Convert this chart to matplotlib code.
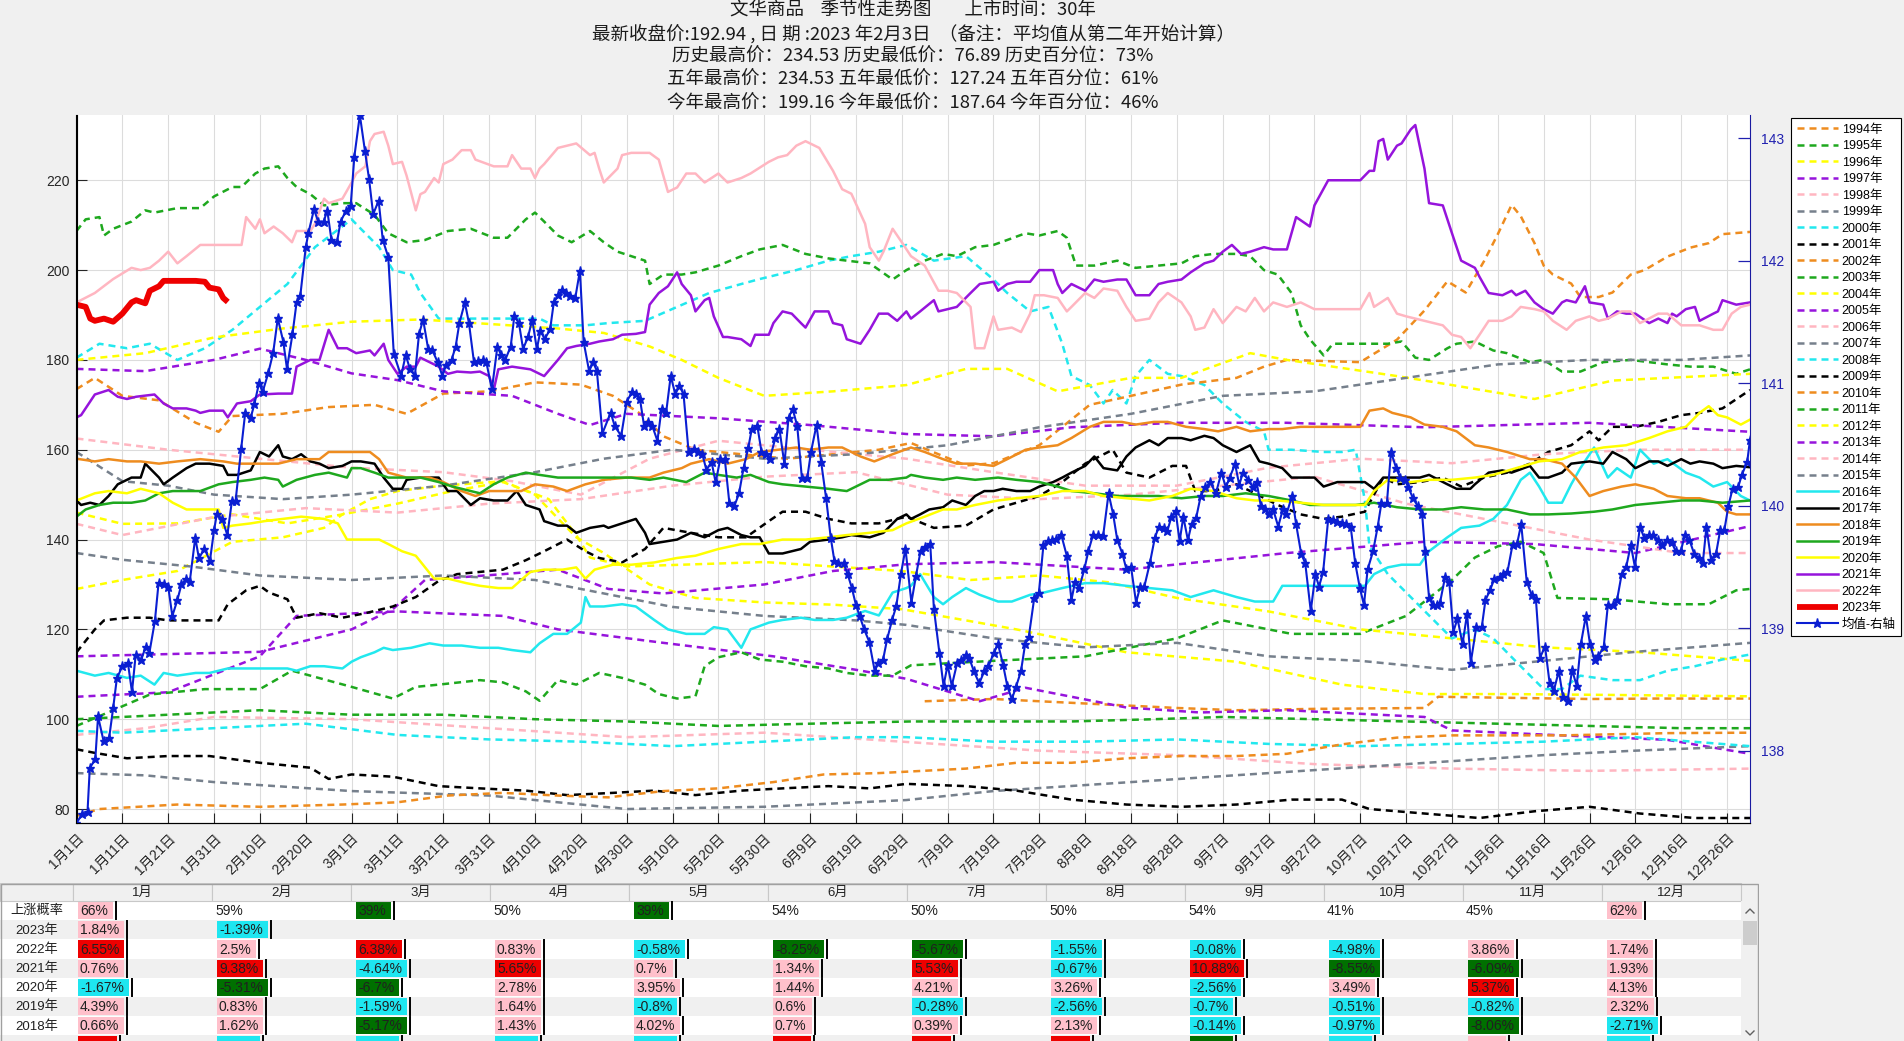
import datetime
import numpy as np
import matplotlib
matplotlib.use("Agg")
import matplotlib.pyplot as plt
from matplotlib.patches import Rectangle

plt.rcParams['font.family'] = ['Liberation Sans', 'Noto Sans CJK SC']
plt.rcParams['axes.unicode_minus'] = False

# ---------------- data (day of year, leap-year calendar) ----------------
y1994 = [(185,104),(200,104.5),(220,103.5),(240,102.5),(253,102),(270,102.3),(294,102.5),(297,105),(310,104.8),(330,104.5),(345,104.6),(365,104.6)]
y1995 = [(0,100),(20,101),(40,102),(60,101),(80,101),(100,100),(120,99.5),(140,98.5),(160,99),(182,99.5),(200,99.5),(217,99.5),(235,100),(250,100.5),(270,100),(290,99.5),(310,99),(330,98.5),(350,98),(365,98)]
y1996 = [(0,129),(10,131),(22,133),(34,139.5),(45,140.5),(54,142.6),(58,145.6),(64,149),(70,150.8),(80,152),(93,153),(100,150),(109,140.5),(115,137),(125,130),(135,127),(150,126),(165,125.5),(180,124.5),(194,122),(205,120),(229,114.9),(253,112.8),(276,107.7),(294,105.6),(312,105.6),(335,105.4),(365,105.1)]
y1997 = [(0,105),(20,106),(40,114),(48,123),(70,124),(93,123),(105,120),(128,117),(152,114),(170,111),(181,109),(197,104),(207,107),(217,105),(229,102.6),(245,101.5),(264,102),(294,100.5),(300,97.5),(324,96.4),(347,95.4),(365,92.3)]
y1998 = [(0,96.5),(15,98),(30,100.5),(60,100),(90,98),(120,96),(150,97),(180,95),(210,93),(240,92),(270,90),(300,89),(330,88.5),(365,89)]
y1999 = [(0,88),(15,87.5),(30,86),(60,84),(90,83),(120,80),(150,80.5),(181,82),(200,84),(230,86),(260,88),(290,90),(320,92),(340,93),(365,94)]
y2000 = [(0,97.4),(10,97),(30,98),(50,99),(70,96.5),(90,95.5),(110,95),(130,94),(150,95),(170,96),(181,96),(200,95),(220,95),(240,95.5),(260,94.5),(280,94),(300,94.5),(320,95),(340,96),(365,94)]
y2001 = [(0,93.3),(4,92.5),(11,91.3),(20,91.8),(29,91.8),(40,90.3),(51,89.2),(55,86.7),(60,87.7),(69,87.2),(79,85.1),(88,84.6),(98,84.1),(107,83.1),(117,83.6),(126,84.1),(135,83.1),(145,84.1),(154,84.6),(164,85.1),(173,84.6),(181,85.6),(194,85.1),(205,84.1),(217,82.1),(229,81),(241,80.5),(253,81),(265,82.1),(276,82.1),(282,80),(294,79),(306,78),(318,79.5),(330,80.5),(341,79),(353,78),(365,78)]
y2002 = [(0,78.5),(5,80),(22,81),(40,80.5),(58,81),(70,81.5),(81,83),(93,83.6),(105,83),(116,82.6),(128,84),(140,84.6),(152,86),(163,87.7),(175,88),(194,89),(205,90.3),(217,90.3),(229,91.3),(241,91.8),(253,91.8),(264,92.3),(276,94.4),(288,95.9),(300,96.4),(324,96.4),(347,96.9),(365,97)]
y2003 = [(0,98.5),(8,102),(16,105.5),(28,106.7),(40,106.7),(47,110.8),(51,109.7),(60,107.2),(69,104.6),(74,107.2),(79,107.7),(88,108.7),(93,108.2),(98,106.2),(101,104.1),(105,108.7),(109,107.7),(114,110.3),(119,109.2),(124,107.7),(127,105.6),(131,104.6),(135,105.1),(137,111.8),(140,113.8),(145,114.9),(149,113.3),(154,112.8),(159,111.8),(164,111.3),(168,110.3),(173,109.7),(178,109.7),(182,112),(200,113),(220,114),(240,118),(250,122),(265,119),(280,119),(290,123),(300,131),(305,136),(310,138.5),(315,139.5),(320,137),(323,127),(335,126.7),(347,125.6),(356,125.6),(362,128.7),(365,129)]
y2004 = [(0,146),(10,143.5),(22,143.6),(34,145.6),(46,143.6),(58,145.6),(70,148),(82,150.8),(93,152.8),(103,149),(109,141),(112,136),(120,134),(135,134.5),(150,135),(165,134),(180,133),(195,131),(210,132),(225,130.5),(240,127),(260,124),(280,120),(300,118),(320,116),(340,115),(365,113)]
y2005 = [(0,114),(40,115),(48,117),(60,120),(69,124.5),(76,131),(93,132.3),(105,133.3),(116,129),(128,128),(150,130),(165,133),(181,134.5),(200,135),(229,133.3),(264,137),(294,139.5),(318,139),(340,137),(365,143)]
y2006 = [(0,143.5),(10,141),(30,145),(50,147),(70,146),(90,148),(110,149),(130,152),(150,154),(170,155),(190,150),(210,149),(230,150),(250,152),(270,154),(290,148),(310,144),(330,140),(350,137),(365,137)]
y2007 = [(0,137),(10,135.5),(25,134),(40,132),(60,131),(80,132),(100,131),(115,128),(130,125),(150,123),(170,122),(181,121),(200,118),(220,116),(240,117),(260,114),(280,113),(300,111),(320,113),(340,115),(365,117)]
y2008 = [(0,180.5),(5,183.6),(11,182.6),(16,183.6),(22,180),(28,182.6),(34,186.7),(40,191.8),(46,196.9),(52,205.1),(56,208.2),(60,211.3),(62,209.2),(66,205.1),(69,200),(73,199),(75,194.9),(79,189.2),(91,189.2),(101,189.2),(104,187.7),(111,187.7),(116,188.2),(124,188.7),(131,191.8),(138,194.9),(145,196.9),(149,198),(157,200),(164,202.1),(169,203.1),(175,204.1),(181,205.6),(187,202.1),(194,203.1),(200,197.9),(203,194.9),(208,190.8),(212,191.8),(215,183.6),(217,176.4),(221,174.4),(224,170.3),(226,173.3),(229,170.3),(231,176.4),(234,180),(238,176.9),(241,176.4),(246,174.4),(250,170.3),(255,166.2),(259,164.1),(260,160),(265,160),(272,159.5),(276,159.5),(279,160),(281,148.7),(282,138.5),(286,132.3),(291,127.2),(295,123.1),(300,118),(305,120),(309,118),(314,112.8),(320,106.7),(324,106.7),(328,109.7),(335,108.7),(341,108.7),(347,110.8),(353,111.8),(359,113.3),(365,114.4)]
y2009 = [(0,114.9),(4,120),(6,122),(11,122.6),(16,122.6),(20,122),(26,122),(31,122),(33,125.6),(37,128.7),(40,129.7),(42,128.2),(46,126.7),(48,122.6),(53,123.6),(58,122.6),(63,123.6),(69,125.1),(74,127.2),(79,130.8),(83,132.3),(88,132.8),(93,133.3),(98,135.4),(102,137.4),(107,140),(111,137.4),(114,135.9),(119,134.9),(124,137.9),(128,142.6),(134,141.5),(140,140.5),(146,140.5),(151,144.1),(154,146.2),(159,146.2),(164,144.6),(169,143.6),(175,143.6),(181,145.1),(187,142.6),(194,143.1),(200,146.7),(205,148.2),(210,149.7),(215,152.8),(220,156.9),(226,160),(229,154.9),(234,153.8),(239,156.4),(242,156.4),(244,150.8),(248,150.8),(253,152.3),(257,150.3),(262,147.7),(267,145.6),(272,144.6),(276,145.1),(281,146.2),(285,153.8),(288,152.3),(293,152.8),(298,153.8),(302,151.8),(307,153.8),(312,154.9),(317,156.9),(321,159.5),(326,161),(330,164.1),(332,162.1),(335,165.1),(340,165.1),(345,166.2),(350,167.7),(354,168.2),(359,169.2),(365,173.3)]
y2010 = [(0,173.5),(4,176),(10,172),(18,171),(26,166),(31,164),(34,167.5),(45,168),(55,169.5),(65,170),(72,168),(80,172.5),(90,173),(100,175),(110,174.5),(117,172),(123,168),(128,163),(135,160),(145,159),(155,158),(165,159),(175,160),(182,161.5),(194,156.5),(200,157),(210,161),(221,170),(230,172),(241,174.5),(253,176),(259,178.5),(264,180),(280,179.5),(288,184.5),(294,191),(299,197.5),(303,195),(307,202),(310,208),(313,214.5),(315,212),(318,206),(320,201),(322,199),(326,197),(328,194),(332,194),(335,195),(339,199),(342,200),(347,203),(352,205),(356,206),(359,208),(365,208.5)]
y2011 = [(0,208.7),(2,211.3),(5,211.8),(6,207.7),(8,209.2),(12,210.8),(15,213.3),(17,212.8),(22,213.8),(27,213.8),(30,216.4),(34,218.5),(36,218.5),(39,221.5),(41,222.6),(44,223.1),(46,220.5),(48,218.5),(51,216.9),(54,214.4),(58,214.9),(61,214.9),(65,212.3),(68,208.2),(72,206.2),(76,206.7),(81,208.7),(86,209.2),(91,207.2),(94,207.2),(98,211.3),(100,212.8),(102,210.8),(105,207.7),(108,206.2),(112,208.7),(115,206.2),(118,204.1),(121,203.1),(124,202.1),(125,196.9),(128,199.0),(132,199.0),(135,199.5),(140,201.0),(145,203.1),(149,204.6),(154,205.6),(159,203.6),(164,202.6),(168,202.1),(173,201.5),(178,197.9),(181,200.0),(185,202.1),(189,203.6),(192,203.1),(196,205.1),(200,205.6),(203,206.7),(207,208.2),(210,207.7),(214,208.7),(216,207.2),(218,201.0),(222,201.0),(227,202.1),(231,200.5),(236,201.0),(241,201.5),(244,203.1),(248,203.6),(253,203.6),(256,203.1),(259,200.0),(262,199.0),(265,194.9),(267,187.7),(269,184.6),(272,181.0),(274,183.6),(279,183.6),(282,183.6),(286,183.6),(289,184.1),(292,180.5),(295,180.0),(299,182.6),(301,183.6),(305,184.1),(307,183.1),(309,182.1),(312,181.5),(317,179.5),(320,180.0),(324,177.4),(328,177.4),(333,179.5),(339,180.0),(343,179.5),(347,179.0),(352,178.5),(357,178.5),(362,176.9),(365,177.9)]
y2012 = [(0,180),(15,181.5),(30,185),(45,187),(60,188.5),(75,189),(90,188),(105,187),(115,186),(125,183),(132,180),(140,176),(150,172),(165,173),(181,174.4),(194,178),(203,178),(214,173),(230,176),(241,176),(256,181.5),(264,180),(288,176.4),(300,174.4),(318,171.3),(335,175.4),(365,176.9)]
y2013 = [(0,178),(15,177.5),(30,180),(40,182.5),(50,180),(60,177),(70,175.5),(80,173),(95,172),(105,168),(112,165.5),(120,168),(140,167),(160,165.5),(181,163.5),(200,163),(217,165),(240,166),(264,166),(294,165),(330,166),(365,164)]
y2014 = [(0,162.5),(20,160),(40,158),(60,156),(80,155),(95,153),(110,150),(125,158),(140,162),(160,160),(181,158),(200,155),(220,152),(240,152),(260,156),(280,158),(300,157),(320,159),(340,160),(365,160)]
y2015 = [(0,159.5),(10,153),(20,152),(30,150),(45,149),(60,150),(80,152),(100,155),(115,158),(130,160),(150,158),(170,159),(190,161),(210,165),(230,168),(250,172),(270,173),(290,176),(310,179),(330,180),(350,180),(365,181)]
y2016 = [(0,110.8),(4,109.7),(7,110.3),(11,109.2),(14,109.7),(17,107.7),(19,110.3),(22,109.7),(26,110.3),(29,110.3),(33,111.3),(37,111.3),(41,111.3),(46,111.3),(48,110.8),(51,111.8),(54,111.8),(58,111.3),(60,112.8),(62,113.8),(65,114.9),(67,115.9),(69,115.4),(73,115.9),(77,116.9),(80,116.4),(84,116.4),(88,115.9),(92,115.9),(95,115.4),(99,114.9),(101,116.9),(104,119.0),(107,119.0),(110,121.5),(111,127.2),(112,125.1),(115,125.1),(119,125.6),(122,125.1),(126,122.1),(129,120.0),(133,119.0),(137,119.0),(139,120.5),(142,120.0),(145,115.9),(147,120.0),(151,121.5),(154,122.1),(158,122.6),(161,122.1),(165,122.1),(168,122.6),(172,124.1),(175,123.1),(178,128.2),(181,129.2),(182,129.7),(184,132.3),(187,127.2),(189,125.6),(191,127.2),(194,129.2),(197,127.7),(201,126.2),(204,126.2),(208,127.7),(211,128.2),(215,129.2),(220,130.3),(224,130.3),(229,129.7),(234,129.2),(239,128.7),(243,127.2),(248,128.7),(253,127.2),(257,126.2),(261,126.2),(263,129.7),(267,129.7),(272,129.7),(276,129.7),(281,129.7),(283,132.3),(286,133.8),(289,134.4),(293,134.4),(295,137.4),(299,140.5),(302,142.6),(306,143.1),(309,144.6),(312,147.7),(315,153.3),(317,154.9),(319,151.8),(321,148.2),(324,148.2),(326,152.3),(328,155.9),(331,160.5),(334,153.8),(336,155.9),(339,153.8),(341,160.0),(344,156.9),(347,157.9),(351,154.9),(354,153.8),(357,151.8),(360,152.8),(363,149.7),(365,148.7)]
y2017 = [(0,148.7),(1,147.7),(3,148.2),(5,147.7),(7,149.7),(9,152.3),(12,153.8),(14,153.8),(15,156.9),(18,153.8),(19,152.3),(21,153.8),(24,155.9),(26,156.9),(29,156.9),(32,156.4),(33,154.4),(35,154.4),(38,155.4),(40,159.5),(42,158.5),(44,161.0),(45,158.5),(47,157.9),(49,159.0),(51,157.4),(53,156.9),(55,155.9),(58,156.4),(60,157.4),(62,157.4),(65,156.9),(67,153.8),(69,151.3),(71,151.3),(72,153.3),(75,153.8),(79,153.8),(81,150.8),(83,150.8),(86,147.7),(88,149.2),(91,148.7),(94,148.7),(96,150.8),(98,147.7),(101,146.7),(102,144.1),(105,143.1),(107,143.1),(109,141.5),(112,142.6),(115,143.1),(116,142.6),(119,143.6),(122,144.6),(124,141.5),(125,139.0),(128,139.5),(131,140.0),(134,141.5),(137,140.5),(140,142.1),(142,142.6),(145,141.0),(147,140.5),(149,140.5),(151,136.9),(154,136.9),(158,137.9),(160,139.5),(164,140.0),(167,140.5),(169,141.0),(173,140.5),(176,141.5),(179,144.6),(181,145.6),(182,144.6),(184,145.6),(186,146.7),(189,147.2),(191,148.7),(194,147.7),(196,149.7),(198,150.8),(200,150.8),(202,151.3),(205,150.8),(208,150.8),(210,151.8),(213,152.8),(215,153.8),(217,154.9),(220,156.4),(222,158.5),(224,155.9),(227,155.4),(229,158.5),(231,160.5),(234,162.1),(236,161.0),(238,162.6),(241,162.6),(243,162.1),(246,163.1),(248,162.6),(250,161.0),(253,159.5),(256,161.0),(258,157.4),(260,156.9),(263,155.9),(265,153.8),(267,153.8),(270,153.8),(272,151.8),(275,152.8),(279,152.8),(281,152.8),(283,151.3),(285,153.8),(288,153.8),(291,153.8),(293,153.8),(295,154.4),(299,152.3),(301,151.3),(304,151.3),(305,152.3),(308,154.9),(311,155.4),(313,154.9),(317,156.4),(319,153.8),(321,153.8),(324,154.9),(326,156.9),(330,157.4),(333,156.9),(335,159.5),(338,157.9),(340,155.9),(343,157.4),(345,157.4),(347,156.4),(350,157.9),(352,156.9),(354,157.4),(357,156.9),(359,155.9),(362,156.4),(365,156.1)]
y2018 = [(0,158.0),(4,157.4),(7,157.9),(11,157.4),(14,157.4),(18,156.9),(22,157.4),(27,157.9),(32,157.4),(35,156.9),(39,156.9),(44,156.9),(48,157.9),(53,157.9),(55,159.5),(60,159.5),(64,159.5),(66,157.9),(68,154.9),(72,153.8),(77,153.8),(80,152.8),(84,150.8),(87,149.7),(90,150.8),(97,150.8),(100,152.3),(104,151.8),(107,150.8),(111,152.3),(115,153.3),(120,153.8),(125,153.8),(128,154.9),(132,155.9),(134,156.9),(138,157.9),(142,156.9),(146,157.9),(149,159.5),(153,160.0),(157,160.5),(160,160.0),(164,160.5),(167,160.5),(171,158.5),(174,157.4),(178,159.0),(182,160.5),(185,159.5),(189,157.9),(192,156.9),(196,156.9),(200,156.4),(203,157.9),(207,160.0),(210,160.5),(214,161.0),(217,162.6),(221,165.1),(224,166.2),(228,166.2),(231,165.6),(235,166.2),(238,166.2),(242,165.1),(246,164.6),(249,164.1),(253,165.1),(256,164.1),(260,164.6),(263,164.6),(267,165.1),(270,165.1),(274,165.1),(278,165.1),(280,165.1),(282,168.7),(285,169.2),(287,168.2),(291,167.2),(294,165.6),(298,165.1),(301,164.1),(305,161.0),(308,160.5),(312,159.5),(317,157.9),(320,157.9),(324,156.9),(327,153.8),(330,149.7),(333,150.8),(337,151.8),(340,152.3),(344,151.3),(347,149.7),(351,149.2),(354,149.2),(358,148.2),(360,146.2),(362,145.6),(365,145.6)]
y2019 = [(0,145.1),(2,146.7),(5,147.7),(8,148.2),(12,148.2),(15,148.7),(18,150.3),(21,150.8),(24,150.8),(27,150.8),(31,152.3),(34,152.8),(38,153.3),(41,153.8),(44,153.3),(45,151.8),(48,153.3),(52,154.4),(55,154.9),(59,153.8),(60,155.9),(62,155.9),(65,154.9),(68,153.8),(72,153.8),(75,153.8),(79,152.8),(82,151.8),(86,150.8),(88,150.3),(91,152.3),(94,153.8),(98,154.9),(101,154.4),(105,153.8),(108,153.8),(112,153.8),(117,153.8),(121,153.8),(125,153.3),(128,153.8),(133,152.8),(137,154.9),(140,154.4),(144,153.8),(147,154.4),(151,152.8),(154,152.3),(159,151.8),(164,151.3),(168,150.8),(173,153.3),(177,153.3),(181,153.8),(182,154.4),(185,153.8),(189,153.3),(192,153.8),(196,153.3),(201,153.8),(205,153.3),(210,152.8),(214,151.8),(217,150.8),(222,150.3),(227,149.7),(231,149.7),(236,149.7),(241,149.2),(246,149.7),(250,149.7),(255,150.3),(260,149.7),(265,148.7),(269,147.7),(274,147.7),(279,147.7),(283,148.2),(288,147.2),(293,146.7),(298,146.7),(302,147.2),(307,146.7),(312,146.7),(317,145.6),(321,145.6),(326,145.8),(331,146.2),(335,146.7),(340,147.7),(345,148.2),(350,148.7),(354,148.7),(359,148.2),(365,148.7)]
y2020 = [(0,148.7),(4,150.3),(7,150.8),(11,150.3),(14,151.3),(18,150.3),(21,148.2),(24,146.7),(27,146.7),(31,146.7),(32,142.6),(34,143.1),(38,143.6),(41,144.1),(45,144.6),(49,145.1),(54,144.6),(57,143.6),(59,140.0),(62,140.0),(66,140.0),(68,139.0),(71,137.4),(74,136.4),(78,131.3),(81,131.3),(85,130.3),(88,129.7),(92,129.2),(95,129.2),(99,132.8),(102,133.3),(106,133.3),(109,133.8),(111,131.3),(113,133.3),(117,134.4),(121,134.4),(126,134.9),(131,135.9),(135,136.4),(140,137.9),(145,139.0),(149,139.0),(154,140.0),(159,140.0),(164,140.5),(168,141.0),(173,141.5),(178,142.1),(181,143.6),(185,145.1),(189,146.7),(192,146.7),(196,147.7),(201,148.7),(205,149.2),(210,149.7),(215,150.8),(220,150.8),(224,149.7),(229,149.2),(234,148.7),(239,149.7),(243,151.3),(248,150.8),(253,149.2),(257,148.7),(262,148.7),(267,148.2),(272,147.7),(276,147.7),(281,147.7),(283,150.8),(286,153.3),(291,152.8),(295,153.3),(300,153.3),(305,153.8),(309,154.4),(314,155.9),(319,157.4),(324,157.9),(328,159.5),(333,160.5),(338,161.0),(343,162.6),(347,164.1),(351,165.1),(354,168.2),(356,169.7),(358,167.7),(360,167.2),(363,165.6),(365,166.7)]
y2021 = [(0,167.2),(1,167.7),(4,172.3),(7,173.3),(9,171.8),(11,171.3),(13,171.8),(17,172.3),(19,170.3),(21,169.2),(24,169.2),(26,168.7),(27,168.2),(29,168.7),(32,168.7),(33,167.2),(35,170.3),(38,170.8),(40,172.3),(44,172.5),(47,172.5),(48,178.5),(51,180.0),(53,180.0),(55,186.7),(57,182.6),(59,182.6),(61,181.5),(64,182.1),(65,181.0),(67,183.6),(68,180.0),(70,176.9),(72,178.5),(74,178.5),(75,180.5),(77,179.5),(79,178.5),(81,176.9),(83,177.4),(86,177.2),(88,177.4),(90,176.4),(91,173.3),(92,177.9),(95,178.5),(99,177.9),(102,176.4),(105,180.0),(107,182.6),(109,183.1),(112,183.6),(114,184.1),(117,184.6),(119,185.6),(122,185.8),(124,186.2),(125,192.3),(127,194.9),(129,196.4),(131,199.5),(132,196.9),(134,194.4),(135,190.8),(137,193.3),(138,193.8),(139,189.7),(141,185.1),(142,185.1),(145,184.6),(147,183.1),(148,185.6),(151,185.6),(152,188.2),(154,190.8),(156,190.3),(158,188.2),(159,187.2),(161,190.8),(164,190.8),(165,188.2),(167,187.7),(168,184.6),(171,183.6),(173,186.7),(175,190.3),(177,190.3),(179,188.7),(181,190.8),(182,189.2),(184,190.8),(187,193.3),(188,190.8),(190,191.3),(192,191.8),(195,194.9),(197,196.9),(200,197.4),(201,195.4),(203,196.9),(205,197.4),(208,197.4),(210,200.0),(213,200.0),(214,196.9),(215,194.9),(217,196.9),(220,195.4),(222,197.9),(224,197.4),(227,197.9),(229,197.9),(231,194.4),(234,194.4),(236,196.9),(238,197.4),(241,197.9),(243,199.5),(246,201.5),(248,202.1),(250,204.1),(252,205.6),(254,203.6),(256,204.1),(259,205.1),(261,204.6),(264,204.6),(265,208.2),(266,211.8),(269,209.7),(270,214.4),(273,220.0),(276,220.0),(280,220.0),(282,222.1),(283,222.1),(284,228.7),(285,229.2),(286,224.6),(288,227.7),(289,228.2),(291,231.3),(292,232.3),(294,222.6),(295,214.9),(298,214.4),(300,208.2),(302,202.1),(305,200.5),(306,198.5),(308,194.9),(311,194.4),(313,195.4),(314,194.4),(316,195.4),(318,192.8),(320,191.3),(322,190.3),(324,192.8),(325,193.3),(327,192.8),(329,196.4),(330,192.8),(333,192.3),(334,189.2),(336,190.8),(338,190.3),(340,190.3),(343,188.2),(345,189.2),(347,188.2),(348,190.3),(349,189.7),(351,191.3),(353,191.8),(354,188.7),(357,190.3),(358,190.8),(359,193.3),(362,192.3),(365,192.8)]
y2022 = [(0,192.8),(4,194.9),(8,198.0),(12,200.5),(14,200.0),(16,200.5),(18,202.1),(20,204.1),(22,201.5),(24,203.1),(27,205.6),(30,205.6),(33,205.6),(36,205.6),(37,211.8),(39,209.2),(40,211.3),(41,208.2),(43,209.7),(45,208.2),(47,206.2),(48,208.7),(51,208.7),(52,210.3),(54,215.9),(55,214.9),(58,215.9),(60,219.5),(61,221.5),(63,223.1),(64,228.7),(65,230.3),(67,230.8),(68,227.7),(69,223.6),(71,224.1),(72,221.0),(74,213.3),(75,216.9),(76,217.4),(78,220.5),(79,219.5),(80,223.6),(82,224.6),(84,226.7),(86,226.7),(87,224.6),(91,223.1),(94,223.1),(95,225.6),(97,222.6),(99,222.6),(100,220.5),(101,222.6),(102,223.6),(105,227.2),(107,227.7),(109,228.2),(112,225.6),(113,226.1),(114,222.6),(115,219.5),(118,222.6),(119,225.6),(121,226.1),(125,226.1),(127,224.6),(129,217.4),(131,218.4),(133,221.5),(135,221.5),(137,219.5),(140,221.5),(142,219.5),(145,220.5),(147,221.5),(151,224.1),(153,225.1),(155,225.6),(157,227.7),(159,228.7),(162,227.2),(165,222.1),(167,218.0),(169,217.0),(172,210.3),(173,205.1),(175,202.1),(176,204.1),(178,209.2),(180,206.2),(182,203.1),(185,201.0),(188,195.4),(190,195.4),(192,194.9),(195,191.8),(196,182.6),(198,182.6),(200,189.7),(201,186.7),(204,187.2),(206,186.2),(208,190.3),(209,194.4),(211,194.4),(214,193.8),(216,190.8),(217,191.8),(220,194.9),(222,193.8),(224,195.9),(227,195.4),(229,191.8),(231,188.7),(234,189.2),(236,192.8),(238,194.9),(241,192.8),(243,189.7),(244,186.7),(246,187.2),(248,191.3),(250,188.2),(253,191.8),(255,190.8),(257,193.8),(259,190.8),(261,192.8),(264,191.8),(267,192.8),(270,191.3),(280,191.3),(282,194.9),(283,191.8),(286,193.8),(288,190.3),(290,189.7),(294,188.7),(298,187.7),(300,185.6),(302,185.1),(304,182.6),(306,185.6),(308,188.7),(311,188.7),(313,189.7),(315,191.8),(318,191.3),(320,190.8),(322,188.7),(325,186.7),(327,188.7),(330,189.7),(332,188.7),(334,189.2),(337,190.8),(339,190.8),(341,188.2),(342,188.7),(345,190.3),(347,190.3),(350,187.7),(352,187.7),(354,187.7),(357,186.7),(359,186.7),(361,190.3),(363,191.8),(365,192.3)]
y2023 = [(0,192.3),(2,191.8),(3,189.2),(4,188.7),(6,189.2),(8,188.5),(10,190.3),(12,192.8),(13,193.3),(15,192.6),(16,195.4),(18,196.4),(19,197.6),(22,197.6),(26,197.6),(28,197.4),(29,196.1),(31,195.7),(32,193.8),(33,192.9)]

# average of all years (right axis)
mean_pts = [(0.0,137.41),(1.2,137.48),(2.4,137.50),(2.9,137.86),(4.1,137.93),(4.7,138.28),(5.9,138.08),(7.1,138.10),(8.0,138.35),(8.8,138.59),(10.0,138.69),(11.2,138.72),(12.1,138.48),(12.9,138.78),(14.1,138.74),(15.1,138.85),(15.9,138.80),(17.1,139.06),(17.9,139.37),(19.1,139.36),(20.0,139.34),(20.9,139.10),(22.0,139.23),(22.9,139.36),(23.9,139.40),(24.7,139.38),(25.9,139.74),(26.7,139.57),(27.9,139.65),(29.1,139.55),(30.0,139.80),(30.6,139.93),(31.8,139.89),(32.9,139.76),(33.9,140.04),(34.7,140.04),(35.9,140.46),(36.8,140.76),(38.0,140.72),(38.8,140.83),(39.8,141.00),(40.6,140.93),(41.8,141.08),(42.9,141.25),(43.9,141.53),(45.1,141.34),(45.9,141.12),(47.1,141.40),(48.0,141.66),(48.8,141.71),(50.0,142.11),(50.6,142.23),(51.8,142.42),(52.7,142.32),(53.9,142.32),(54.7,142.41),(55.6,142.17),(56.8,142.15),(57.6,142.32),(58.8,142.41),(59.8,142.45),(60.6,142.85),(61.8,143.19),(62.9,142.90),(63.8,142.67),(64.7,142.38),(65.9,142.49),(66.8,142.17),(68.0,142.03),(69.2,141.24),(70.8,141.06),(71.8,141.23),(72.7,141.12),(73.8,141.06),(74.7,141.40),(75.6,141.52),(76.7,141.28),(77.6,141.27),(78.8,141.17),(79.8,141.06),(80.6,141.15),(81.8,141.19),(82.7,141.30),(83.5,141.49),(84.7,141.66),(85.6,141.49),(86.7,141.17),(87.6,141.18),(88.6,141.19),(89.4,141.17),(90.6,140.95),(91.8,141.30),(92.6,141.23),(93.5,141.19),(94.7,141.30),(95.5,141.55),(96.5,141.49),(97.4,141.28),(98.5,141.38),(99.4,141.52),(100.4,141.28),(101.2,141.43),(102.1,141.36),(103.3,141.44),(104.1,141.66),(105.1,141.72),(105.9,141.76),(106.8,141.74),(107.6,141.71),(108.8,141.70),(109.8,141.92),(110.6,141.34),(111.8,141.10),(112.7,141.17),(113.5,141.10),(114.7,140.59),(116.5,140.76),(117.4,140.65),(118.8,140.57),(120.0,140.85),(121.2,140.93),(122.1,140.91),(122.9,140.87),(123.8,140.65),(124.7,140.68),(125.6,140.65),(126.7,140.53),(127.6,140.79),(128.6,140.76),(129.6,141.06),(130.6,140.91),(131.5,140.98),(132.4,140.91),(133.5,140.44),(134.7,140.46),(135.6,140.44),(136.5,140.42),(137.4,140.29),(138.5,140.36),(139.4,140.19),(140.4,140.38),(141.4,140.38),(142.4,140.02),(143.5,140.00),(144.5,140.10),(145.5,140.31),(146.5,140.47),(147.3,140.63),(148.5,140.65),(149.4,140.44),(150.4,140.42),(151.2,140.38),(152.4,140.55),(153.3,140.63),(154.4,140.34),(155.3,140.72),(156.2,140.79),(157.2,140.65),(158.2,140.23),(159.4,140.23),(160.2,140.44),(161.4,140.66),(162.4,140.36),(163.5,140.06),(164.5,139.74),(165.3,139.55),(166.1,139.53),(167.3,139.53),(168.2,139.44),(169.1,139.33),(170.0,139.19),(170.8,139.10),(171.8,138.99),(172.9,138.89),(174.1,138.65),(174.9,138.72),(175.9,138.74),(176.8,138.91),(177.9,139.07),(178.8,139.18),(179.8,139.44),(180.8,139.65),
             (182.1,139.21),(183.1,139.43),(184.1,139.63),(185.0,139.66),(186.2,139.69),(187.0,139.16),(188.2,138.80),(189.1,138.53),(190.0,138.70),(190.9,138.53),(192.1,138.72),(193.0,138.74),(193.9,138.78),(194.7,138.76),(195.7,138.65),(196.9,138.55),(198.0,138.65),(198.9,138.69),(200.1,138.80),(201.0,138.87),(202.1,138.70),(203.0,138.53),(204.0,138.42),(204.9,138.52),(206.0,138.65),(206.9,138.87),(207.7,138.93),(208.9,139.25),(209.9,139.29),(210.9,139.68),(211.9,139.71),(212.8,139.72),(213.6,139.73),(214.8,139.76),(216.0,139.59),(217.0,139.23),(217.8,139.38),(218.7,139.33),(219.8,139.48),(220.7,139.63),(221.7,139.76),(222.9,139.76),(223.9,139.75),(225.1,140.10),(226.1,139.93),(227.0,139.72),(228.1,139.61),(229.0,139.48),(230.0,139.50),(231.1,139.21),(232.0,139.34),(232.9,139.34),(234.1,139.53),(235.2,139.74),(236.1,139.83),(237.1,139.82),(237.9,139.79),(238.8,139.91),(239.7,139.96),(240.6,139.71),(241.4,139.91),(242.4,139.72),(243.2,139.85),(244.2,139.90),(245.2,140.08),(246.2,140.15),(247.3,140.19),(248.5,140.10),(249.7,140.27),(250.7,140.15),(251.5,140.23),(252.7,140.34),(253.6,140.17),(254.4,140.27),(255.6,140.21),(256.6,140.15),(257.4,140.19),(258.3,140.00),(259.2,139.97),(260.1,139.93),(261.0,139.97),(262.1,139.83),(263.1,139.97),(263.9,139.93),(265.1,140.08),(266.0,139.85),(267.1,139.61),(268.0,139.53),(269.2,139.14),(270.2,139.44),(271.0,139.34),(271.9,139.46),(273.0,139.89),(274.0,139.88),(274.9,139.87),(276.0,139.86),(276.9,139.85),(277.9,139.83),(278.9,139.53),(279.9,139.33),(280.8,139.19),(281.6,139.48),(282.8,139.63),(283.8,139.83),(284.6,140.02),(285.8,140.02),(286.7,140.44),(287.8,140.31),(288.7,140.23),(289.7,140.21),(290.5,140.15),(291.5,140.06),(292.5,140.00),(293.5,139.93),(294.1,139.63),(295.0,139.25),(295.8,139.19),(296.7,139.19),(297.4,139.21),(298.5,139.42),(299.4,139.38),(300.3,138.97),(301.2,139.08),(302.3,138.87),(303.3,139.12),(304.1,138.72),(305.3,139.01),(306.5,139.01),(307.3,139.23),(308.3,139.31),(309.2,139.40),(310.4,139.42),(311.2,139.44),(312.1,139.46),(313.2,139.68),(314.2,139.69),(315.1,139.85),(316.3,139.38),(317.4,139.27),(318.3,139.24),(319.2,138.76),(320.3,138.85),(321.3,138.55),(322.2,138.49),(323.3,138.65),(324.2,138.44),(325.2,138.41),(326.2,138.66),(327.2,138.53),(328.1,138.87),(329.2,139.10),(330.1,138.87),(331.1,138.74),(331.9,138.77),(333.1,138.85),(334.0,139.19),(335.1,139.19),(336.0,139.23),(337.0,139.44),(338.0,139.50),(339.0,139.68),(339.9,139.50),(341.0,139.83),(341.9,139.74),(342.9,139.76),(343.9,139.76),(344.9,139.72),(345.8,139.68),(346.9,139.72),(347.9,139.70),(348.8,139.63),(349.9,139.63),(350.8,139.76),(351.8,139.72),(352.8,139.61),(353.8,139.57),(354.7,139.53),(355.5,139.83),(356.5,139.56),(357.6,139.61),(358.5,139.80),(359.4,139.80),(360.3,140.00),(361.2,140.14),(362.4,140.15),(363.2,140.25),(364.4,140.36),(365.0,140.54)]

hist_low, hist_high = 76.89, 234.53

# monthly table
months = ['1月', '2月', '3月', '4月', '5月', '6月', '7月', '8月', '9月', '10月', '11月', '12月']
up_prob = [66, 59, 39, 50, 39, 54, 50, 50, 54, 41, 45, 62]
ret_2023 = [1.84, -1.39]
ret_2022 = [6.55, 2.5, 6.38, 0.83, -0.58, -8.25, -5.67, -1.55, -0.08, -4.98, 3.86, 1.74]
ret_2021 = [0.76, 9.38, -4.64, 5.65, 0.7, 1.34, 5.53, -0.67, 10.88, -8.55, -6.09, 1.93]
ret_2020 = [-1.67, -5.31, -6.7, 2.78, 3.95, 1.44, 4.21, 3.26, -2.56, 3.49, 5.37, 4.13]
ret_2019 = [4.39, 0.83, -1.59, 1.64, -0.8, 0.6, -0.28, -2.56, -0.7, -0.51, -0.82, 2.32]
ret_2018 = [0.66, 1.62, -5.17, 1.43, 4.02, 0.7, 0.39, 2.13, -0.14, -0.97, -8.06, -2.71]
ret_2017 = [5.6, -1.2, -2.1, -3.4, -1.8, 5.9, 6.2, 5.4, -5.5, -2.3, 1.6, -1.1]

title_lines = [
    "文华商品    季节性走势图        上市时间：30年",
    "最新收盘价:192.94 , 日 期 :2023 年2月3日  （备注：平均值从第二年开始计算）",
    "历史最高价：234.53 历史最低价：76.89 历史百分位：73%",
    "五年最高价：234.53 五年最低价：127.24 五年百分位：61%",
    "今年最高价：199.16 今年最低价：187.64 今年百分位：46%",
]

palette = ['#ee8c1f', '#1ea81e', '#ffff00', '#9614dc', '#ffb6c1', '#76808c', '#22e8ee', '#000000']
years = {1994: y1994, 1995: y1995, 1996: y1996, 1997: y1997, 1998: y1998, 1999: y1999,
         2000: y2000, 2001: y2001, 2002: y2002, 2003: y2003, 2004: y2004, 2005: y2005,
         2006: y2006, 2007: y2007, 2008: y2008, 2009: y2009, 2010: y2010, 2011: y2011,
         2012: y2012, 2013: y2013, 2014: y2014, 2015: y2015, 2016: y2016, 2017: y2017,
         2018: y2018, 2019: y2019, 2020: y2020, 2021: y2021, 2022: y2022}

# ---------------- figure ----------------
W, H = 1904, 1041
fig = plt.figure(figsize=(W / 100, H / 100), dpi=100, facecolor='#f0f0f0')
ax = fig.add_axes([76.5 / W, 1 - 823 / H, (1750 - 76.5) / W, (823 - 115) / H])
ax.set_facecolor('white')

handles = []
for yr, pts in years.items():
    d, v = zip(*pts)
    c = palette[(yr - 1994) % 8]
    if yr <= 2015:
        ln, = ax.plot(d, v, color=c, lw=1.8, linestyle=(0, (2.8, 2.0)), label=f'{yr}年')
    else:
        ln, = ax.plot(d, v, color=c, lw=1.8, label=f'{yr}年')
    handles.append(ln)
d, v = zip(*y2023)
ln, = ax.plot(d, v, color='#ee0000', lw=4.2, solid_capstyle='butt', label='2023年')
handles.append(ln)

ax.set_xlim(0, 365)
ax.set_ylim(hist_low, hist_high)
ax.set_yticks([80, 100, 120, 140, 160, 180, 200, 220])
base = datetime.date(2020, 1, 1)
tick_days = list(range(0, 361, 10))
tick_lbls = []
for td in tick_days:
    dt = base + datetime.timedelta(days=td)
    tick_lbls.append(f'{dt.month}月{dt.day}日')
ax.set_xticks(tick_days)
ax.set_xticklabels(tick_lbls, rotation=45, ha='right', va='top', rotation_mode='anchor', fontsize=10)
ax.tick_params(axis='both', direction='in', length=7, width=0.8, labelsize=10, colors='#262626', pad=5)
ax.tick_params(axis='x', pad=6)
ax.grid(True, color='#dcdcdc', lw=0.8)
ax.set_axisbelow(True)
ax.spines['top'].set_visible(False)
ax.spines['right'].set_visible(False)

ax2 = ax.twinx()
md, mv = zip(*mean_pts)
ln, = ax2.plot(md, mv, color='#0a1ed2', lw=1.5, marker='*', ms=6.5, label='均值-右轴')
handles.append(ln)
ax2.set_ylim(min(mv), max(mv))
ax2.set_yticks([138, 139, 140, 141, 142, 143])
ax2.tick_params(axis='y', direction='in', length=9, width=0.9, colors='#2020b0', labelsize=10, pad=8)
ax2.spines['right'].set_color('#1a1aa0')
ax2.spines['top'].set_visible(False)

for i, t in enumerate(title_lines):
    fig.text(913 / W, 1 - (10.5 + 23.2 * i) / H, t, ha='center', va='center', fontsize=13.3,
             family=['Noto Sans CJK SC'], color='#1a1a1a')

leg = fig.legend(handles=handles, loc='upper left', bbox_to_anchor=(1791 / W, 1 - 118 / H),
                 fontsize=9, handlelength=3.3, labelspacing=0.36, borderpad=0.45, borderaxespad=0,
                 handletextpad=0.3, frameon=True, fancybox=False, framealpha=1,
                 edgecolor='black', numpoints=1)
leg.get_frame().set_linewidth(0.8)

# ---------------- monthly table ----------------
TOP, RIGHT = 883, 1759
axt = fig.add_axes([0, 0, RIGHT / W, (H - TOP) / H])
axt.set_xlim(0, RIGHT)
axt.set_ylim(H, TOP)
axt.axis('off')

col0, colw = 73, 139
hdr_h, row_h = 18, 19.2
axt.add_patch(Rectangle((0, TOP), col0, hdr_h, fc='#f0f0f0', ec='#c8c8c8', lw=0.8))
for j, m in enumerate(months):
    x0 = col0 + colw * j
    axt.add_patch(Rectangle((x0, TOP), colw, hdr_h, fc='#f0f0f0', ec='#c8c8c8', lw=0.8))
    axt.text(x0 + colw / 2, TOP + hdr_h / 2 + 0.5, m, ha='center', va='center', fontsize=9.5, color='#202020')

rows = [('上涨概率', None), ('2023年', ret_2023), ('2022年', ret_2022), ('2021年', ret_2021),
        ('2020年', ret_2020), ('2019年', ret_2019), ('2018年', ret_2018), ('2017年', ret_2017)]

renderer = fig.canvas.get_renderer()


def cell(x0, ytop, txt, fc, show_text=True):
    t = axt.text(x0 + 7, ytop + row_h / 2 + 0.5, txt, ha='left', va='center', fontsize=10, color='#202020')
    if fc is None:
        t.set_x(x0 + 3)
        return
    bb = t.get_window_extent(renderer)
    w = bb.width + 7
    if not show_text:
        t.remove()
    axt.add_patch(Rectangle((x0 + 5, ytop + 1), w, row_h - 2, fc=fc, ec='none', zorder=0.5))
    axt.plot([x0 + 5 + w + 3] * 2, [ytop + 1, ytop + row_h - 1], color='black', lw=1.4)


def ret_color(v):
    if v > 5:
        return '#ee0000'
    if v >= 0:
        return '#ffc0cb'
    if v >= -5:
        return '#1ee6f0'
    return '#007000'


for i, (name, vals) in enumerate(rows):
    ytop = TOP + hdr_h + row_h * i
    visible = ytop + row_h <= H + 1
    bg = 'white' if i % 2 == 0 else '#f0f0f0'
    axt.add_patch(Rectangle((0, ytop), col0 + 12 * colw, row_h, fc=bg, ec='none', zorder=0.1))
    if visible:
        axt.text(col0 / 2, ytop + row_h / 2 + 0.5, name, ha='center', va='center', fontsize=9.5, color='#202020')
    for j in range(12):
        x0 = col0 + colw * j
        if vals is None:
            p = up_prob[j]
            fc = '#ffc0cb' if p >= 60 else ('#007000' if p <= 40 else None)
            cell(x0, ytop, f'{p}%', fc)
        elif j < len(vals):
            cell(x0, ytop, f'{vals[j]:g}%', ret_color(vals[j]), show_text=visible)

# scrollbar
sx = col0 + 12 * colw
axt.add_patch(Rectangle((sx, TOP + hdr_h), RIGHT - sx, H - TOP - hdr_h, fc='#f0f0f0', ec='none'))
axt.add_patch(Rectangle((sx + 2, 921), RIGHT - sx - 4, 24, fc='#cdcdcd', ec='none'))
axt.plot([sx + 5, sx + 9, sx + 13], [913, 909, 913], color='#606060', lw=1)
axt.plot([sx + 5, sx + 9, sx + 13], [1031, 1035, 1031], color='#606060', lw=1)
axt.add_patch(Rectangle((0.5, TOP + 0.5), RIGHT - 1, H - TOP + 5, fc='none', ec='#a0a0a0', lw=1))

fig.savefig('out.png', dpi=100, facecolor=fig.get_facecolor())
